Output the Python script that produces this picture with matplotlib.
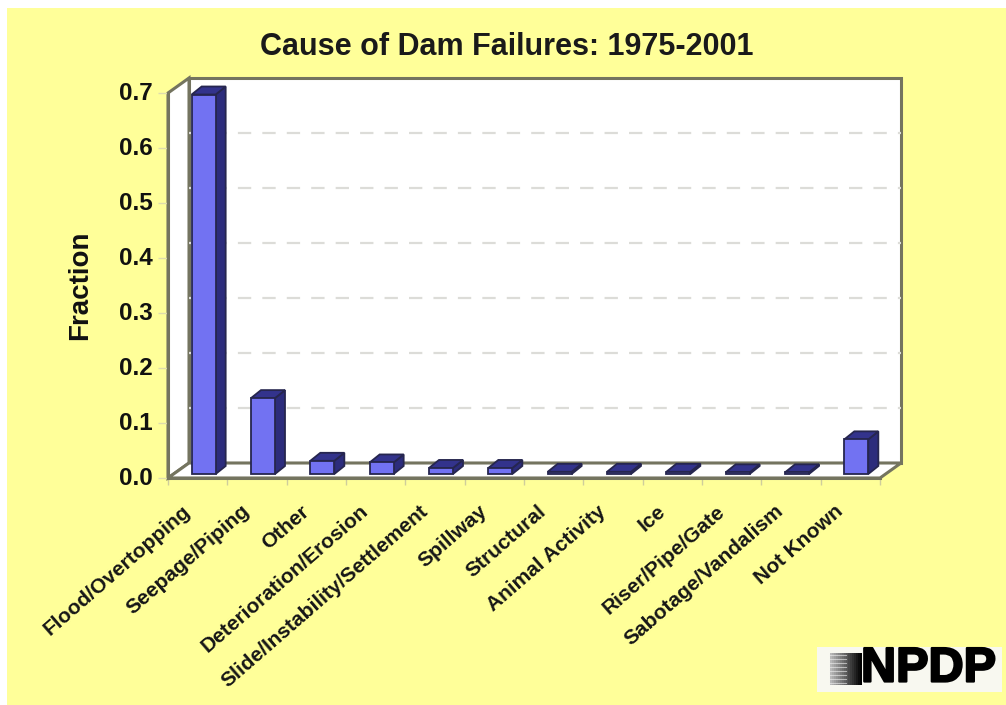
import matplotlib
matplotlib.use("Agg")
import matplotlib.pyplot as plt
import matplotlib.patheffects as pe
from matplotlib.patches import Polygon, Rectangle
from matplotlib.transforms import ScaledTranslation

plt.rcParams['font.family'] = ['Liberation Sans', 'DejaVu Sans']

causes = ["Flood/Overtopping", "Seepage/Piping", "Other", "Deterioration/Erosion",
          "Slide/Instability/Settlement", "Spillway", "Structural", "Animal Activity",
          "Ice", "Riser/Pipe/Gate", "Sabotage/Vandalism", "Not Known"]
fractions = [0.69, 0.138, 0.024, 0.021, 0.011, 0.011, 0.004, 0.004, 0.004, 0.003, 0.003, 0.063]
y_ticks = [0.0, 0.1, 0.2, 0.3, 0.4, 0.5, 0.6, 0.7]

W, H = 1006, 705
fig = plt.figure(figsize=(W / 100, H / 100), dpi=100, facecolor="white")

# yellow slide background, leaves a thin white strip top and left
bg = fig.add_axes([0, 0, 1, 1], zorder=0)
bg.set_xlim(0, W)
bg.set_ylim(H, 0)
bg.axis("off")
bg.add_patch(Rectangle((7, 8), W - 7, H - 8, fc="#ffff99", ec="none"))

# main axes is the front plane of the 3d box
ax = fig.add_axes([168 / W, 1 - 478 / H, 712 / W, 385 / H], zorder=1)
ax.set_xlim(-0.5, 11.5)
ax.set_ylim(0, 0.7)
ax.patch.set_visible(False)

# px -> data sizes for the fake depth
px_x = 12 / 712
px_y = 0.7 / 385
wall_dx = 21 * px_x
wall_dy = 15 * px_y
line_c = "#74745f"

# back wall, left wall, floor
x0, x1 = -0.5, 11.5
ax.add_patch(Polygon([(x0 + wall_dx, wall_dy), (x1 + wall_dx, wall_dy), (x1 + wall_dx, 0.7 + wall_dy),
                      (x0 + wall_dx, 0.7 + wall_dy)],
                     fc="white", ec=line_c, lw=2.2, clip_on=False, zorder=1))
ax.add_patch(Polygon([(x0, 0), (x0 + wall_dx, wall_dy), (x0 + wall_dx, 0.7 + wall_dy), (x0, 0.7)],
                     fc="white", ec=line_c, lw=2.2, clip_on=False, zorder=1.1))
ax.add_patch(Polygon([(x0, 0), (x1, 0), (x1 + wall_dx, wall_dy), (x0 + wall_dx, wall_dy)],
                     fc="white", ec=line_c, lw=2.2, clip_on=False, zorder=1.1))

# dashed grid on the back wall
for v in y_ticks[1:-1]:
    ax.plot([x0 + wall_dx, x1 + wall_dx], [v + wall_dy, v + wall_dy], color="#dcdcd8", lw=1.6,
            ls=(0, (6, 5)), clip_on=False, zorder=1.2)

# bars: front face plus the two visible sides
bar_w = 24 * px_x
bar_ox = 6 * px_x
bar_oy = 4 * px_y
depth_x = 10 * px_x
depth_y = 8 * px_y
edge = "#26264f"
for i, val in enumerate(fractions):
    left = i - bar_w / 2 + bar_ox
    right = left + bar_w
    base = bar_oy
    top = base + val
    ax.add_patch(Polygon([(right, base), (right + depth_x, base + depth_y), (right + depth_x, top + depth_y),
                          (right, top)],
                         fc="#2c2c7c", ec=edge, lw=1.3, clip_on=False, zorder=3))
    ax.add_patch(Polygon([(left, top), (right, top), (right + depth_x, top + depth_y),
                          (left + depth_x, top + depth_y)],
                         fc="#33338c", ec=edge, lw=1.3, clip_on=False, zorder=3))
    ax.bar(i + bar_ox, val, width=bar_w, bottom=base, color="#7272f2", edgecolor=edge, lw=1.3,
           clip_on=False, zorder=4)

for side in ["top", "right"]:
    ax.spines[side].set_visible(False)
for side in ["left", "bottom"]:
    ax.spines[side].set_color(line_c)
    ax.spines[side].set_linewidth(2.2)
    ax.spines[side].set_zorder(5)

ax.set_yticks(y_ticks)
ax.set_yticklabels(["%.1f" % v for v in y_ticks], fontsize=17.5, fontweight="bold", color="#111111")
ax.tick_params(axis="y", length=7, width=1, color="#dedcae", pad=4)
# value labels sit slightly above their ticks
lift = ScaledTranslation(0, 2 / 100, fig.dpi_scale_trans)
for lab in ax.get_yticklabels():
    lab.set_transform(lab.get_transform() + lift)

ax.set_xticks(range(len(causes)))
ax.set_xticklabels(causes, rotation=41, ha="right", va="top", rotation_mode="anchor",
                   fontsize=15, fontweight="bold", color="#161616")
ax.tick_params(axis="x", length=0, pad=17)
# labels end left of the category centre
shift = ScaledTranslation(-16 / 100, 0, fig.dpi_scale_trans)
for lab in ax.get_xticklabels():
    lab.set_transform(lab.get_transform() + shift)
ax.set_xticks([i - 0.5 for i in range(len(causes) + 1)], minor=True)
ax.tick_params(axis="x", which="minor", length=5, width=1, color="#cfcd9c")

bg.text(507, 47, "Cause of Dam Failures: 1975-2001", ha="center", va="center", fontsize=22,
        fontweight="bold", color="#1a1a1a")
bg.text(80, 285, "Fraction", rotation=90, ha="center", va="center", fontsize=20,
        fontweight="bold", color="#111111")

# NPDP logo bottom right
bg.add_patch(Rectangle((817, 647), 185, 45, fc="#f8f8f0", ec="none"))
steps = 16
for k in range(steps):
    g = 0.72 - 0.72 * k / (steps - 1)
    bg.add_patch(Rectangle((830 + k * 2, 653), 2, 32, fc=(g, g, g), ec="none"))
for yy in range(655, 685, 4):
    bg.plot([830, 846], [yy, yy], color="#f0f0f0", lw=0.8, alpha=0.6)
bg.text(861, 669, "NPDP", ha="left", va="center", fontsize=35, fontweight="bold", color="black",
        path_effects=[pe.withStroke(linewidth=1.6, foreground="black")])

fig.savefig("out.png", dpi=100, facecolor=fig.get_facecolor())
